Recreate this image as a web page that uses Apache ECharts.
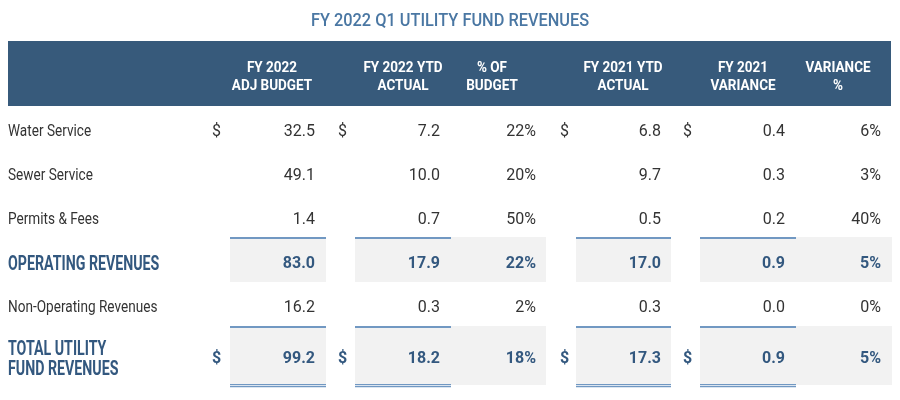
<!DOCTYPE html>
<html>
<head>
<meta charset="utf-8">
<script src="https://cdn.jsdelivr.net/npm/echarts@6/dist/echarts.min.js"></script>
<style>html,body{margin:0;padding:0;background:#fff}#c{width:900px;height:400px}</style>
</head>
<body>
<div id="c"></div>
<script>
// ---- data ----
const chartTitle = 'FY 2022 Q1 UTILITY FUND REVENUES';
const columnHeaders = ['FY 2022\nADJ BUDGET', 'FY 2022 YTD\nACTUAL', '% OF\nBUDGET', 'FY 2021 YTD\nACTUAL', 'FY 2021\nVARIANCE', 'VARIANCE\n%'];
const rowLabels = ['Water Service', 'Sewer Service', 'Permits & Fees', 'OPERATING REVENUES', 'Non-Operating Revenues', 'TOTAL UTILITY\nFUND REVENUES'];
const rowTypes = ['item', 'item', 'item', 'subtotal', 'item', 'total'];
const dollarRows = [true, false, false, false, false, true];
const adjBudget2022 = [32.5, 49.1, 1.4, 83.0, 16.2, 99.2];
const ytdActual2022 = [7.2, 10.0, 0.7, 17.9, 0.3, 18.2];
const pctOfBudget = [22, 20, 50, 22, 2, 18];
const ytdActual2021 = [6.8, 9.7, 0.5, 17.0, 0.3, 17.3];
const variance2021 = [0.4, 0.3, 0.2, 0.9, 0.0, 0.9];
const variancePct = [6, 3, 40, 5, 0, 5];

// ---- layout (pixels along a 0..900 hidden x axis) ----
const colRight = [315, 440, 536, 661, 785, 881];
const colIsPct = [false, false, true, false, false, true];
const dollarX = [212, 338, null, 560, 683, null];
const boxSpans = [[230, 326, true], [355, 451, true], [451, 546, false], [576, 671, true], [700, 796, true], [796, 892, false]];
const headerCenters = [272, 403, 492, 623, 743, 838];

const DARK = '#375a7b';
const BOLD = '#33587f';
const TEXT = '#333333';
const LINE = '#7198c2';
const BOXFILL = '#f2f2f2';

const seriesData = rowLabels.map((_, i) => [i, adjBudget2022[i], ytdActual2022[i], pctOfBudget[i], ytdActual2021[i], variance2021[i], variancePct[i]]);

function renderItem(params, api) {
  const r = api.value(0);
  const type = rowTypes[r];
  const bold = type !== 'item';
  const shift = type === 'total' ? 7 : 0;
  const cy = api.coord([0, r])[1] + shift;
  const ty = cy + 2;
  const kids = [];
  if (bold) {
    const top = type === 'total' ? cy - 31 : cy - 25;
    const bottom = type === 'total' ? cy + 28 : cy + 20;
    boxSpans.forEach(s => {
      const x0 = api.coord([s[0], r])[0], x1 = api.coord([s[1], r])[0];
      kids.push({type: 'rect', shape: {x: x0, y: top, width: x1 - x0, height: bottom - top}, style: {fill: BOXFILL}});
      if (s[2]) {
        kids.push({type: 'rect', shape: {x: x0, y: top, width: x1 - x0, height: 2}, style: {fill: LINE}});
        if (type === 'total') {
          kids.push({type: 'rect', shape: {x: x0, y: bottom - 1, width: x1 - x0, height: 1.2}, style: {fill: LINE}});
          kids.push({type: 'rect', shape: {x: x0, y: bottom + 1, width: x1 - x0, height: 1.2}, style: {fill: LINE}});
        }
      }
    });
  }
  // row label
  kids.push({
    type: 'text', x: 8, y: bold ? ty + 1 : ty, scaleX: bold ? 0.71 : 0.8,
    style: {
      text: rowLabels[r], x: 0, y: 0, align: 'left', verticalAlign: 'middle',
      font: (bold ? 'bold 20px' : '17px') + ' Roboto, "Noto Sans", sans-serif',
      lineHeight: 20, fill: bold ? BOLD : TEXT
    }
  });
  const font = (bold ? 'bold 16px' : '16px') + ' Roboto, "Noto Sans", sans-serif';
  const fill = bold ? BOLD : TEXT;
  for (let c = 0; c < 6; c++) {
    const v = api.value(c + 1);
    const txt = colIsPct[c] ? Math.round(v) + '%' : v.toFixed(1);
    const p = api.coord([colRight[c], r]);
    kids.push({type: 'text', x: p[0], y: ty, style: {text: txt, x: 0, y: 0, align: 'right', verticalAlign: 'middle', font: font, fill: fill}});
    if (dollarRows[r] && dollarX[c] !== null) {
      const d = api.coord([dollarX[c], r]);
      kids.push({type: 'text', x: d[0], y: ty, style: {text: '$', x: 0, y: 0, align: 'left', verticalAlign: 'middle', font: font, fill: fill}});
    }
  }
  return {type: 'group', children: kids};
}

const graphics = [
  {type: 'text', x: 450, y: 21, scaleX: 0.86, style: {text: chartTitle, align: 'center', verticalAlign: 'middle', font: '500 19px Roboto, sans-serif', fill: '#4a77a3'}},
  {type: 'rect', shape: {x: 8, y: 41, width: 883, height: 65}, style: {fill: DARK}, z: -1}
];
columnHeaders.forEach((h, i) => {
  graphics.push({type: 'text', x: headerCenters[i], y: 77, scaleX: 0.9, style: {text: h, align: 'center', verticalAlign: 'middle', font: 'bold 15px Roboto, sans-serif', lineHeight: 18, fill: '#ffffff'}});
});

const chart = echarts.init(document.getElementById('c'), null, {renderer: 'canvas'});
chart.setOption({
  backgroundColor: '#ffffff',
  animation: false,
  graphic: graphics,
  grid: {left: 0, right: 0, top: 108, bottom: 28},
  xAxis: {type: 'value', min: 0, max: 900, show: false},
  yAxis: {type: 'category', data: rowLabels, inverse: true, show: false},
  series: [{type: 'custom', renderItem: renderItem, data: seriesData, encode: {x: -1, y: 0}, clip: false}]
});
</script>
</body>
</html>
